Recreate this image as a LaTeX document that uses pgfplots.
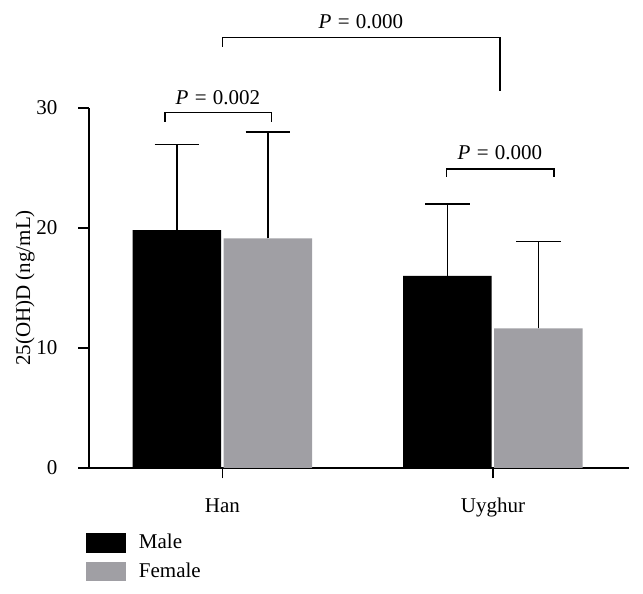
\documentclass[border=0pt]{standalone}
\usepackage{fontspec}
\setmainfont{Liberation Serif}
\usepackage{pgfplots}
\pgfplotsset{compat=1.18}
\definecolor{femgray}{RGB}{160,159,164}
\newcommand{\Pval}[1]{\textit{P}\hspace{0.3em}=\hspace{0.3em}#1}
\begin{document}
\fontsize{21}{25}\selectfont
\begin{tikzpicture}[x=1pt,y=1pt]
\path[use as bounding box] (0,0) rectangle (643,594);
\begin{axis}[
  at={(89pt,126pt)}, anchor=south west,
  scale only axis, width=540pt, height=360pt,
  xmin=-0.4935, xmax=1.503, ymin=0, ymax=30,
  axis x line=bottom, axis y line=left,
  axis line style={-, line width=1.2pt, black},
  ybar=2.5pt, bar width=88.5pt,
  xtick={0,1}, xticklabels={Han, Uyghur},
  ytick={0,10,20,30},
  tick align=outside,
  major tick length=10.5pt,
  tick style={line width=1.2pt, black},
  /pgf/number format/assume math mode=true,
  xticklabel style={anchor=base, inner sep=0pt, yshift=-34pt},
  yticklabel style={anchor=east, inner sep=0pt, xshift=-21pt},
  ylabel={25(OH)D (ng/mL)},
  every axis y label/.style={at={(axis description cs:-0.1185,0.5)}, rotate=90, anchor=center},
  clip=false,
  legend style={draw=none, fill=none, inner sep=0pt, outer sep=0pt,
    at={(axis description cs:-0.0056,-0.1806)}, anchor=north west,
    nodes={inner sep=0pt}, column sep=13pt, row sep=9pt},
  legend cell align=left,
]
\addplot[fill=black, draw=none,
  error bars/.cd, y dir=plus, y explicit,
  error bar style={line width=1.2pt, black},
  error mark options={rotate=90, line width=1.2pt, black, mark size=22.3pt},
  /pgfplots/.cd,
  legend image code/.code={\fill[black] (0pt,-10pt) rectangle (40pt,10pt);}]
  coordinates {(0,19.83) +- (0,7.14) (1,16.0) +- (0,6.0)};
\addlegendentry{Male}
\addplot[fill=femgray, draw=none,
  error bars/.cd, y dir=plus, y explicit,
  error bar style={line width=1.2pt, black},
  error mark options={rotate=90, line width=1.2pt, black, mark size=22.3pt},
  /pgfplots/.cd,
  legend image code/.code={\fill[femgray] (0pt,-9.5pt) rectangle (40pt,9.5pt);}]
  coordinates {(0,19.14) +- (0,8.86) (1,11.64) +- (0,7.22)};
\addlegendentry{Female}
% significance brackets
\draw[line width=1.2pt] (axis cs:-0.2126,28.86) -- (axis cs:-0.2126,29.64) -- (axis cs:0.1819,29.64) -- (axis cs:0.1819,28.86);
\node[anchor=base] at (axis cs:-0.0166,30.33) {\Pval{0.002}};
\draw[line width=1.2pt] (axis cs:0.8288,24.28) -- (axis cs:0.8288,24.92) -- (axis cs:1.2255,24.92) -- (axis cs:1.2255,24.28);
\node[anchor=base] at (axis cs:1.0259,25.73) {\Pval{0.000}};
\draw[line width=1.2pt] (axis cs:0.0007,35.11) -- (axis cs:0.0007,35.89) -- (axis cs:1.0259,35.89) -- (axis cs:1.0259,31.44);
\node[anchor=base] at (axis cs:0.512,36.64) {\Pval{0.000}};
\end{axis}
\end{tikzpicture}
\end{document}
